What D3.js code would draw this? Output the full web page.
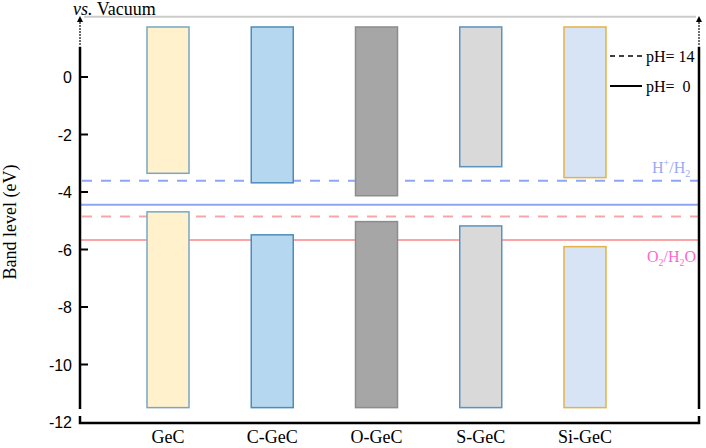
<!DOCTYPE html>
<html>
<head>
<meta charset="utf-8">
<script src="https://cdn.jsdelivr.net/npm/d3@7"></script>
<style>
  html, body { margin: 0; padding: 0; background: #fff; }
  svg { display: block; }
  .tick-label { font: 16px "Liberation Sans", Arial, sans-serif; }
  .serif { font-family: "Liberation Serif", "Times New Roman", serif; }
</style>
</head>
<body>
<svg id="chart" width="706" height="448"></svg>
<script>
// band edges (eV vs. vacuum)
const materials = ['GeC', 'C-GeC', 'O-GeC', 'S-GeC', 'Si-GeC'];
const cbm = [-3.35, -3.68, -4.13, -3.12, -3.50];
const vbm = [-4.69, -5.49, -5.03, -5.18, -5.90];
const fills = ['#fef1cc', '#b5d7f0', '#a6a6a6', '#d9d9d9', '#d7e4f5'];
const strokes = ['#7aa6c2', '#4d8dbb', '#8c8c8c', '#5a93bf', '#e3b34a'];

// extent of the drawn band blocks
const bandTop = 1.74;
const bandBottom = -11.5;

// redox potentials at pH 0 and pH 14
const redox = [
  { name: 'H+/H2', pH0: -4.44, pH14: -3.61, color: '#8ea6f4' },
  { name: 'O2/H2O', pH0: -5.67, pH14: -4.85, color: '#f9a5a5' }
];

const yTicks = [0, -2, -4, -6, -8, -10, -12];

const svg = d3.select('#chart');
const left = 80, right = 699;

const y = d3.scaleLinear().domain([-12, 0]).range([422, 77]);
const x = d3.scalePoint().domain(materials).range([168, 585]);
const barW = 42;

const rows = materials.map((m, i) => ({ m, cbm: cbm[i], vbm: vbm[i], fill: fills[i], stroke: strokes[i] }));

// top frame line
svg.append('line')
    .attr('x1', left + 4).attr('x2', right - 3)
    .attr('y1', y(2.1)).attr('y2', y(2.1))
    .attr('stroke', '#cccccc').attr('stroke-width', 2);

// redox level lines (behind the bars)
const lvl = svg.append('g');
redox.forEach(r => {
  lvl.append('line')
      .attr('x1', left + 2).attr('x2', right)
      .attr('y1', y(r.pH14)).attr('y2', y(r.pH14))
      .attr('stroke', r.color).attr('stroke-width', 2)
      .attr('stroke-dasharray', '10,9');
  lvl.append('line')
      .attr('x1', left).attr('x2', right)
      .attr('y1', y(r.pH0)).attr('y2', y(r.pH0))
      .attr('stroke', r.color).attr('stroke-width', 2);
});

// conduction band blocks
svg.append('g').selectAll('rect')
  .data(rows)
  .join('rect')
    .attr('x', d => x(d.m) - barW / 2)
    .attr('y', y(bandTop))
    .attr('width', barW)
    .attr('height', d => y(d.cbm) - y(bandTop))
    .attr('fill', d => d.fill)
    .attr('stroke', d => d.stroke)
    .attr('stroke-width', 1.5);

// valence band blocks
svg.append('g').selectAll('rect')
  .data(rows)
  .join('rect')
    .attr('x', d => x(d.m) - barW / 2)
    .attr('y', d => y(d.vbm))
    .attr('width', barW)
    .attr('height', d => y(bandBottom) - y(d.vbm))
    .attr('fill', d => d.fill)
    .attr('stroke', d => d.stroke)
    .attr('stroke-width', 1.5);

// axes
const axisTop = y(1.05), axisBot = y(-11.55), arrowTip = y(2.12);
function sideAxis(xp) {
  svg.append('line')
      .attr('x1', xp).attr('x2', xp)
      .attr('y1', axisTop).attr('y2', axisBot)
      .attr('stroke', '#000').attr('stroke-width', 2.5);
  svg.append('line')
      .attr('x1', xp).attr('x2', xp)
      .attr('y1', axisTop - 2).attr('y2', arrowTip + 5)
      .attr('stroke', '#000').attr('stroke-width', 1.5)
      .attr('stroke-dasharray', '1.5,1.5');
  svg.append('path')
      .attr('d', `M${xp},${arrowTip} l-3,6 l6,0 z`)
      .attr('fill', '#000');
}
sideAxis(left);
sideAxis(right);

// bottom axis with end stubs
svg.append('path')
    .attr('d', `M${left},${y(-12) - 6} V${y(-12) + 1} H${right} V${y(-12) - 6}`)
    .attr('fill', 'none')
    .attr('stroke', '#000').attr('stroke-width', 2.5);

// y ticks
const tg = svg.append('g');
tg.selectAll('line')
  .data(yTicks.filter(t => t > -12))
  .join('line')
    .attr('x1', left).attr('x2', left + 8)
    .attr('y1', d => y(d)).attr('y2', d => y(d))
    .attr('stroke', '#000').attr('stroke-width', 2);
tg.selectAll('text')
  .data(yTicks)
  .join('text')
    .attr('class', 'tick-label')
    .attr('x', 72)
    .attr('y', d => y(d) + 6)
    .attr('text-anchor', 'end')
    .text(d => d);

// category labels
svg.append('g').selectAll('text')
  .data(materials)
  .join('text')
    .attr('class', 'serif')
    .attr('x', d => x(d))
    .attr('y', 443)
    .attr('text-anchor', 'middle')
    .attr('font-size', 18)
    .text(d => d);

// y title
svg.append('text')
    .attr('class', 'serif')
    .attr('transform', `translate(16,222) rotate(-90)`)
    .attr('text-anchor', 'middle')
    .attr('font-size', 18)
    .text('Band level (eV)');

// vs. Vacuum
const vt = svg.append('text')
    .attr('class', 'serif')
    .attr('x', 73).attr('y', 15)
    .attr('font-size', 18);
vt.append('tspan').attr('font-style', 'italic').text('vs.');
vt.append('tspan').text(' Vacuum');

// legend
const lg = svg.append('g');
lg.append('line')
    .attr('x1', 610).attr('x2', 642).attr('y1', 56).attr('y2', 56)
    .attr('stroke', '#000').attr('stroke-width', 1.5)
    .attr('stroke-dasharray', '5,4');
lg.append('line')
    .attr('x1', 610).attr('x2', 642).attr('y1', 86).attr('y2', 86)
    .attr('stroke', '#000').attr('stroke-width', 2);
lg.append('text').attr('class', 'serif').attr('font-size', 16)
    .attr('x', 646).attr('y', 62).text('pH= 14');
lg.append('text').attr('class', 'serif').attr('font-size', 16)
    .attr('x', 646).attr('y', 92).attr('xml:space', 'preserve').text('pH=  0');

// redox labels
const h = svg.append('text').attr('class', 'serif').attr('font-size', 16)
    .attr('x', 652).attr('y', 173).attr('fill', '#99aaf5');
h.append('tspan').text('H');
h.append('tspan').attr('font-size', 10).attr('dy', -7).text('+');
h.append('tspan').attr('dy', 7).text('/H');
h.append('tspan').attr('font-size', 10).attr('dy', 4).text('2');

const o = svg.append('text').attr('class', 'serif').attr('font-size', 16)
    .attr('x', 647).attr('y', 262).attr('fill', '#ff66cc');
o.append('tspan').text('O');
o.append('tspan').attr('font-size', 10).attr('dy', 4).text('2');
o.append('tspan').attr('dy', -4).text('/H');
o.append('tspan').attr('font-size', 10).attr('dy', 4).text('2');
o.append('tspan').attr('dy', -4).text('O');
</script>
</body>
</html>
